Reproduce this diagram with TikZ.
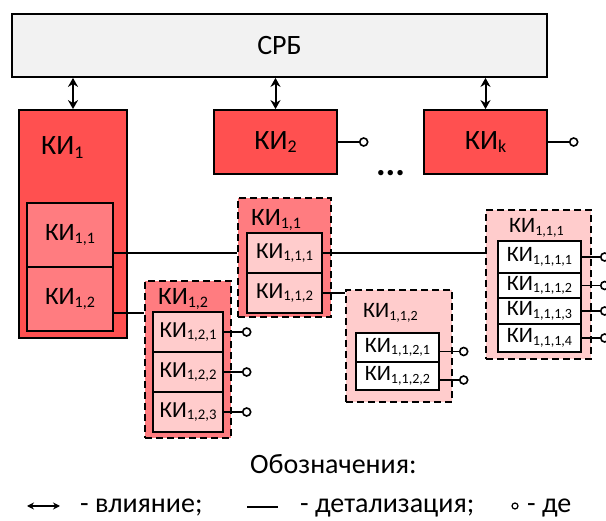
\documentclass[tikz,border=0pt]{standalone}
\usepackage{fontspec}
\setmainfont{Carlito}
\usepackage{graphicx}
\usetikzlibrary{arrows.meta}
\definecolor{kired}{HTML}{FF5050}
\definecolor{kimid}{HTML}{FF7C80}
\definecolor{kilight}{HTML}{FFCCCC}
\definecolor{srbgray}{HTML}{F2F2F2}
\newcommand\fs[1]{\fontsize{#1}{#1}\selectfont}
\newcommand\ki[1]{КИ\raisebox{-0.12em}{\scalebox{0.64}{#1}}}
\begin{document}
\begin{tikzpicture}[x=1pt,y=-1pt,
  box/.style={draw,line width=1.8pt,inner sep=0pt,align=center},
  kibox/.style={box,fill=kired,font=\fs{28}},
  part/.style={box,fill=kimid,font=\fs{25}},
  grp/.style={draw,line width=2.6pt,dash pattern=on 7pt off 4pt,inner sep=0pt},
  item/.style={box,fill=kilight,font=\fs{23},minimum width=70pt,minimum height=40pt},
  small/.style={box,fill=white,font=\fs{22},minimum width=83pt},
  title/.style={anchor=base west,inner sep=0pt},
  infl/.style={{Stealth[length=9pt,width=10pt]}-{Stealth[length=9pt,width=10pt]},line width=2pt},
  detail/.style={line width=1.5pt},
  pinend/.style={circle,draw,line width=1.6pt,fill=white,inner sep=0pt,minimum size=8pt}
]
\useasboundingbox (0,0) rectangle (606,521);
\node[box,fill=srbgray,font=\fs{28},minimum width=535pt,minimum height=63pt] (srb) at (279.5,45.5) {СРБ};
\node[kibox,minimum width=108pt,minimum height=228pt] (ki1) at (73,224) {};
\node[title,font=\fs{28}] (ki1name) at (41,155) {\ki{1}};
\node[kibox,minimum width=123pt,minimum height=64pt] (ki2) at (275.5,142) {\ki{2}};
\node[kibox,minimum width=123pt,minimum height=64pt] (kik) at (485.5,142) {\ki{k}};
\node[anchor=base,font=\fs{36}\bfseries,inner sep=0pt] (dots) at (390.5,176) {...};
\node[part,minimum width=86pt,minimum height=64pt] (ki11) at (70,235) {\ki{1,1}};
\node[part,minimum width=86pt,minimum height=64pt] (ki12) at (70,299) {\ki{1,2}};
% detailing of KI 1,1
\node[grp,fill=kimid,minimum width=93pt,minimum height=119pt] (g11) at (284.5,257.5) {};
\node[title,font=\fs{25}] (g11name) at (251,226) {\ki{1,1}};
\node[item,minimum width=75pt] (k111) at (284.5,253) {\ki{1,1,1}};
\node[item,minimum width=75pt] (k112) at (284.5,293) {\ki{1,1,2}};
% detailing of KI 1,2
\node[grp,fill=kimid,minimum width=86pt,minimum height=157pt] (g12) at (188,359.5) {};
\node[title,font=\fs{25}] (g12name) at (158,305) {\ki{1,2}};
\node[item] (k121) at (188,332) {\ki{1,2,1}};
\node[item] (k122) at (188,372) {\ki{1,2,2}};
\node[item] (k123) at (188,412) {\ki{1,2,3}};
% detailing of KI 1,1,2
\node[grp,fill=kilight,minimum width=106pt,minimum height=112pt] (g112) at (399,346) {};
\node[title,font=\fs{22}] (g112name) at (363,318) {\ki{1,1,2}};
\node[small,minimum height=29pt] (k1121) at (397.5,347.5) {\ki{1,1,2,1}};
\node[small,minimum height=28pt] (k1122) at (397.5,376) {\ki{1,1,2,2}};
% detailing of KI 1,1,1
\node[grp,fill=kilight,minimum width=105pt,minimum height=149pt] (g111) at (538.5,284.5) {};
\node[title,font=\fs{22}] (g111name) at (509,233) {\ki{1,1,1}};
\node[small,minimum height=32pt] (k1111) at (539.5,257) {\ki{1,1,1,1}};
\node[small,minimum height=25pt] (k1112) at (539.5,285.5) {\ki{1,1,1,2}};
\node[small,minimum height=26pt] (k1113) at (539.5,311) {\ki{1,1,1,3}};
\node[small,minimum height=28pt] (k1114) at (539.5,338) {\ki{1,1,1,4}};
% influence
\draw[infl] (ki1.north) -- (ki1.north |- srb.south);
\draw[infl] (ki2.north) -- (ki2.north |- srb.south);
\draw[infl] (kik.north) -- (kik.north |- srb.south);
% detailing
\draw[detail] (k111.west -| ki11.east) -- (k111.west -| g11.west);
\draw[detail] (k111.east) -- (k111.east -| g111.west);
\draw[detail] ([yshift=-14pt]ki12.east) -- ([yshift=-14pt]ki12.east -| g12.west);
\draw[detail] (k112.east) -- (k112.east -| g112.west);
% pins
\foreach \n in {ki2,kik}
  \draw[detail] (\n.east) -- ++(21,0) node[pinend,anchor=west] (\n-pin) {};
\foreach \n in {k121,k122,k123,k1111,k1112,k1113,k1114}
  \draw[detail] (\n.east) -- ++(18,0) node[pinend,anchor=west] (\n-pin) {};
\foreach \n in {k1121,k1122}
  \draw[detail] ([yshift=-4pt]\n.east) -- ++(19,0) node[pinend,anchor=west] (\n-pin) {};
% legend
\node[title,font=\fs{28}] (legend) at (250,474) {Обозначения:};
\coordinate (infla) at (27,506);
\coordinate (inflb) at (60,506);
\draw[{Stealth[length=7pt,width=7pt]}-{Stealth[length=7pt,width=7pt]},line width=1.8pt] (infla) -- (inflb);
\node[title,font=\fs{28}] (infltxt) at (80,513) {- влияние;};
\coordinate (deta) at (247,507);
\coordinate (detb) at (278,507);
\draw[detail] (deta) -- (detb);
\node[title,font=\fs{28}] (dettxt) at (300,513) {- детализация;};
\node[pinend,minimum size=6pt,line width=1.2pt] (pinsym) at (515,506) {};
\node[title,font=\fs{28}] (pintxt) at (527,513) {- де};
\end{tikzpicture}
\end{document}
